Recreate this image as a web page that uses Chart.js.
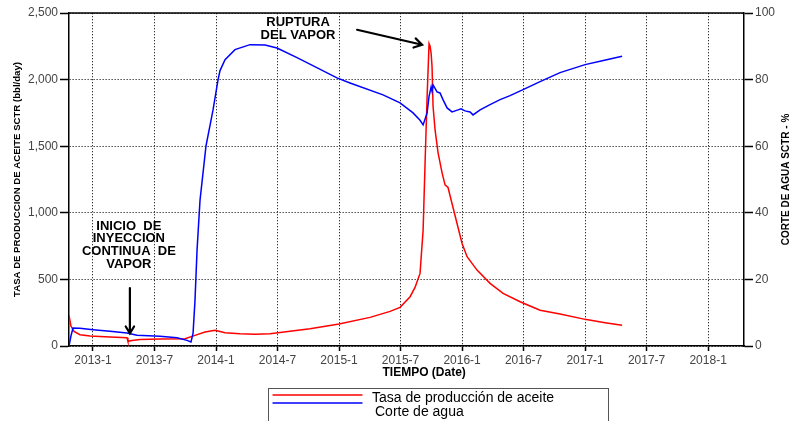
<!DOCTYPE html>
<html><head><meta charset="utf-8">
<script src="https://cdn.jsdelivr.net/npm/chart.js@4/dist/chart.umd.min.js"></script>
<style>html,body{margin:0;padding:0;background:#fff}#wrap{width:791px;height:421px}</style>
</head><body><div id="wrap"><canvas id="c" width="791" height="421"></canvas></div>
<script>
// x values are months counted from 2013-1
const tickMonths = [0, 6, 12, 18, 24, 30, 36, 42, 48, 54, 60];
const tickLabels = ['2013-1','2013-7','2014-1','2014-7','2015-1','2015-7','2016-1','2016-7','2017-1','2017-7','2018-1'];

const oilMonths = [-2.34,-2.15,-1.85,-1.27,-0.29,1.66,3.32,3.41,3.80,4.59,6.54,8.98,9.95,10.93,11.90,12.88,14.34,15.80,17.27,19.22,21.17,24.0,27.02,28.98,29.95,30.93,31.41,31.90,32.20,32.39,32.59,32.78,32.88,32.98,33.07,33.17,33.37,33.66,34.05,34.34,34.63,35.02,35.51,36.0,36.49,37.46,38.73,40.0,41.66,42.63,43.61,45.56,48.0,49.95,51.61];
const oilRate   = [231,150,110,85,75,68,62,35,42,48,52,55,80,105,118,100,92,88,92,110,130,165,215,260,290,370,440,545,870,1370,1870,2270,2250,2200,2100,1800,1620,1450,1300,1210,1190,1070,920,770,670,570,470,395,332,300,268,240,200,175,155];

const wcMonths = [-2.34,-2.15,-1.95,-1.27,0,1.66,3.32,4.29,6.54,8.2,9.17,9.56,9.76,9.95,10.15,10.44,11.02,11.71,12.2,12.39,12.88,13.85,15.32,16.78,17.95,19.9,23.8,25.07,28.29,29.95,31.22,31.9,32.2,32.59,32.78,32.98,33.07,33.17,33.56,33.85,34.15,34.54,35.02,35.61,35.9,36.29,36.78,37.07,37.76,38.73,39.71,40.68,41.95,43.61,45.56,48.0,49.46,51.61];
const waterCut = [0,3,5.4,5.3,4.9,4.4,3.9,3.2,2.9,2.5,1.7,1.2,3.8,13.7,28.8,43.8,60,70.9,80,82.7,86,89,90.5,90.4,89.5,86.6,80.5,79,75.4,73,70,67.8,66.4,70,75,77.8,76.5,78.4,76.3,76,73.9,71.5,70.3,70.9,71.2,70.6,70.3,69.4,70.9,72.5,74,75.2,77,79.4,82.1,84.5,85.5,87];

const seriesNames = ['Tasa de producción de aceite', 'Corte de agua'];
const leftTitle = 'TASA DE PRODUCCION DE ACEITE SCTR (bbl/day)';
const rightTitle = 'CORTE DE AGUA SCTR - %';
const xTitle = 'TIEMPO (Date)';
const note1 = ['INICIO  DE', 'INYECCION', 'CONTINUA  DE', 'VAPOR'];
const note2 = ['RUPTURA', 'DEL VAPOR'];

const FONT = '"Liberation Sans", Arial, sans-serif';

function arrow(ctx, x1, y1, x2, y2, head) {
  const a = Math.atan2(y2 - y1, x2 - x1);
  ctx.beginPath();
  ctx.moveTo(x1, y1); ctx.lineTo(x2, y2);
  ctx.moveTo(x2 - head * Math.cos(a - 0.55), y2 - head * Math.sin(a - 0.55));
  ctx.lineTo(x2, y2);
  ctx.lineTo(x2 - head * Math.cos(a + 0.55), y2 - head * Math.sin(a + 0.55));
  ctx.stroke();
}

const decor = {
  id: 'decor',
  afterDraw(chart) {
    const ctx = chart.ctx, ca = chart.chartArea;
    const X = v => chart.scales.x.getPixelForValue(v);
    const Y = v => chart.scales.y.getPixelForValue(v);
    ctx.save();
    // top frame line
    ctx.strokeStyle = '#000'; ctx.lineWidth = 1.5;
    ctx.beginPath(); ctx.moveTo(ca.left, ca.top); ctx.lineTo(ca.right, ca.top); ctx.stroke();

    // annotations
    ctx.fillStyle = '#000';
    ctx.font = 'bold 13px ' + FONT;
    ctx.textAlign = 'center'; ctx.textBaseline = 'middle';
    note1.forEach((t, i) => ctx.fillText(t, X(3.5), Y(900) + i * 12.8));
    note2.forEach((t, i) => ctx.fillText(t, X(20.0), Y(2427) + i * 12.5));
    ctx.lineWidth = 2.2; ctx.lineCap = 'round'; ctx.lineJoin = 'miter';
    arrow(ctx, X(3.6), Y(435), X(3.6), Y(95), 8);
    arrow(ctx, X(25.76), Y(2374), X(32.1), Y(2262), 9);

    // axis titles
    ctx.font = 'bold 12px ' + FONT;
    ctx.fillText(xTitle, X(32.3), ca.bottom + 27);
    ctx.save();
    ctx.translate(786, (ca.top + ca.bottom) / 2);
    ctx.rotate(-Math.PI / 2);
    ctx.font = 'bold 10px ' + FONT;
    ctx.fillText(rightTitle, 0, 0);
    ctx.restore();

    // legend box
    const bx = 268, by = 388, bw = 340, bh = 40;
    ctx.strokeStyle = '#555'; ctx.lineWidth = 1;
    ctx.strokeRect(bx + 0.5, by + 0.5, bw, bh);
    ctx.textAlign = 'left'; ctx.font = '14px ' + FONT;
    chart.data.datasets.forEach((ds, i) => {
      const ly = [395, 403][i], ty = [398, 412][i], tx = [372, 375][i];
      ctx.strokeStyle = ds.borderColor; ctx.lineWidth = 1.3;
      ctx.beginPath(); ctx.moveTo(273, ly); ctx.lineTo(362, ly); ctx.stroke();
      ctx.fillStyle = '#000';
      ctx.fillText(ds.label, tx, ty);
    });
    ctx.restore();
  }
};

new Chart(document.getElementById('c'), {
  type: 'line',
  data: {
    datasets: [
      { label: seriesNames[0], data: oilMonths.map((m, i) => ({ x: m, y: oilRate[i] })), yAxisID: 'y',
        borderColor: '#ff0000', borderWidth: 1.5, pointRadius: 0, tension: 0, order: 1 },
      { label: seriesNames[1], data: wcMonths.map((m, i) => ({ x: m, y: waterCut[i] })), yAxisID: 'y2',
        borderColor: '#0000ff', borderWidth: 1.5, pointRadius: 0, tension: 0, order: 0 }
    ]
  },
  options: {
    responsive: false, animation: false,
    layout: { padding: { top: 13, left: 0, right: 0, bottom: 0 } },
    plugins: { legend: { display: false }, tooltip: { enabled: false } },
    scales: {
      x: {
        type: 'linear', min: -2.34, max: 63.5,
        afterBuildTicks: s => { s.ticks = tickMonths.map(v => ({ value: v })); },
        afterFit: s => { s.height = 75; },
        ticks: { callback: (v) => tickLabels[tickMonths.indexOf(v)], autoSkip: false, maxRotation: 0,
                 font: { family: FONT, size: 12 }, color: '#444', padding: 2 },
        grid: { color: '#333', lineWidth: 1, tickLength: 5, tickColor: '#000', tickWidth: 1.5, tickBorderDash: [] },
        border: { display: true, color: '#000', width: 1.5, dash: [1.3, 1.7] }
      },
      y: {
        position: 'left', min: 0, max: 2500,
        afterBuildTicks: s => { s.ticks = [0, 500, 1000, 1500, 2000, 2500].map(v => ({ value: v })); },
        afterFit: s => { s.width = 69; },
        ticks: { callback: v => v.toLocaleString('en-US'), font: { family: FONT, size: 12 }, color: '#444', padding: 2 },
        grid: { color: '#333', lineWidth: 1, tickLength: 9, tickColor: '#000', tickWidth: 1.5, tickBorderDash: [] },
        border: { display: true, color: '#000', width: 1.5, dash: [1.3, 1.7] },
        title: { display: true, text: leftTitle, font: { family: FONT, size: 9.6, weight: 'bold' }, color: '#000', padding: { top: 12, bottom: 0 } }
      },
      y2: {
        position: 'right', min: 0, max: 100,
        afterBuildTicks: s => { s.ticks = [0, 20, 40, 60, 80, 100].map(v => ({ value: v })); },
        afterFit: s => { s.width = 47; },
        ticks: { font: { family: FONT, size: 12 }, color: '#444', padding: 2 },
        grid: { drawOnChartArea: false, tickLength: 9, tickColor: '#000', tickWidth: 1.5 },
        border: { display: true, color: '#000', width: 1.5 }
      }
    }
  },
  plugins: [decor]
});
</script></body></html>
